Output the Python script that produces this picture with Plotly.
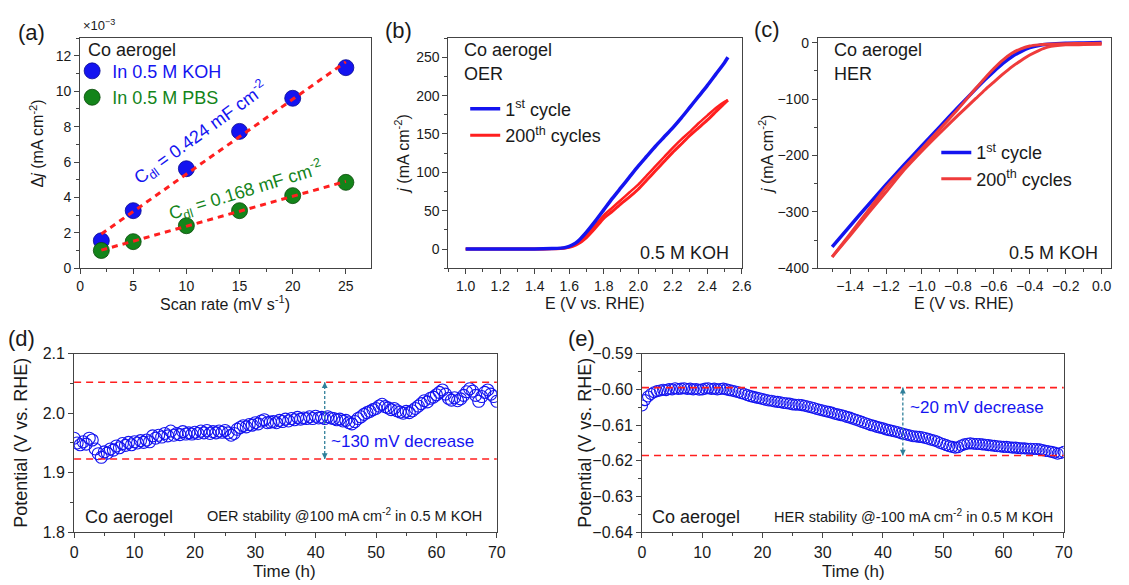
import numpy as np
import plotly.graph_objects as go

# ---------------- data ----------------
# (a) double-layer capacitance
scan_rate = [2, 5, 10, 15, 20, 25]
dj_koh = [1.55, 3.25, 5.62, 7.73, 9.60, 11.33]
dj_pbs = [1.00, 1.50, 2.40, 3.25, 4.10, 4.85]

# (b) OER polarisation
oer_E = [1.0, 1.1, 1.2, 1.3, 1.4, 1.5, 1.55, 1.58, 1.6, 1.62, 1.65, 1.7, 1.75, 1.8, 1.85,
         1.9, 1.95, 2.0, 2.05, 2.1, 2.15, 2.2, 2.25, 2.3, 2.35, 2.4, 2.45, 2.5, 2.52]
oer_j_1st = [0, 0, 0, 0, 0.2, 0.6, 1.2, 2.2, 3.5, 5.5, 10, 22, 36, 51, 66,
             80, 94, 108, 121, 134, 146, 158, 171, 185, 199, 213, 228, 243, 250]
oer_j_200_fwd = [0, 0, 0, 0, 0, 0.3, 0.8, 1.4, 2.2, 3.5, 6.5, 15, 27, 40, 49,
                 59, 68, 78, 90, 102, 114, 126, 137, 148, 158, 168, 179, 190, 194]
oer_j_200_rev = [0, 0, 0, 0, 0, 0.4, 1.0, 1.8, 2.8, 4.5, 8.5, 18, 31, 44, 54,
                 64, 74, 84, 96, 108, 120, 132, 143, 153, 164, 174, 184, 192, 194]

# (c) HER polarisation
her_E = [0.0, -0.1, -0.2, -0.3, -0.35, -0.4, -0.45, -0.5, -0.55, -0.6, -0.65, -0.7,
         -0.8, -0.9, -1.0, -1.1, -1.2, -1.3, -1.4, -1.5]
her_j_1st = [0, -0.5, -1, -3, -5, -9, -16, -25, -37, -51, -66, -82,
             -115, -149, -183, -217, -252, -288, -325, -362]
her_j_200_a = [-1, -1.5, -2, -3, -4, -6, -11, -19, -31, -46, -63, -81,
               -118, -153, -188, -222, -257, -298, -339, -380]
her_j_200_b = [-3, -3.5, -4, -8, -14, -22, -32, -43, -56, -70, -84, -99,
               -129, -160, -192, -226, -265, -303, -342, -380]

# (d) OER chronopotentiometry, one reading every 0.5 h
oer_stab = [
    1.958, 1.950, 1.947, 1.952, 1.948, 1.958, 1.955, 1.940, 1.932, 1.926,
    1.935, 1.933, 1.940, 1.938, 1.945, 1.942, 1.949, 1.946, 1.951, 1.947,
    1.952, 1.950, 1.954, 1.951, 1.955, 1.952, 1.962, 1.958, 1.963, 1.960,
    1.966, 1.962, 1.970, 1.963, 1.966, 1.964, 1.969, 1.965, 1.967, 1.965,
    1.968, 1.966, 1.970, 1.967, 1.971, 1.966, 1.969, 1.967, 1.970, 1.968,
    1.971, 1.967, 1.963, 1.966, 1.973, 1.976, 1.979, 1.977, 1.981, 1.980,
    1.984, 1.982, 1.987, 1.989, 1.984, 1.985, 1.986, 1.984, 1.988, 1.986,
    1.990, 1.987, 1.991, 1.989, 1.993, 1.990, 1.992, 1.991, 1.994, 1.991,
    1.995, 1.992, 1.993, 1.991, 1.994, 1.992, 1.991, 1.989, 1.990, 1.987,
    1.988, 1.984, 1.982, 1.986, 1.991, 1.994, 1.998, 2.001, 2.003, 2.006,
    2.008, 2.012, 2.015, 2.011, 2.009, 2.006, 2.008, 2.004, 2.002, 2.000,
    2.003, 2.001, 2.004, 2.008, 2.012, 2.016, 2.021, 2.019, 2.025, 2.027,
    2.031, 2.035, 2.039, 2.032, 2.025, 2.022, 2.026, 2.021, 2.024, 2.030,
    2.036, 2.041, 2.037, 2.030, 2.020, 2.028, 2.035, 2.039, 2.032, 2.028,
    2.020,
]
oer_limits = [2.052, 1.923]

# (e) HER chronopotentiometry, one reading every 0.5 h
her_stab = [
    -0.6045, -0.6030, -0.6020, -0.6013, -0.6008, -0.6005, -0.6003, -0.6001, -0.6002, -0.5999,
    -0.6000, -0.5997, -0.5999, -0.5998, -0.5997, -0.5999, -0.5998, -0.6000, -0.5999, -0.6001,
    -0.6000, -0.5998, -0.5997, -0.5999, -0.5998, -0.6000, -0.5999, -0.5998, -0.6000, -0.6002,
    -0.6004, -0.6006, -0.6008, -0.6011, -0.6013, -0.6016, -0.6019, -0.6021, -0.6023, -0.6025,
    -0.6027, -0.6029, -0.6031, -0.6032, -0.6034, -0.6035, -0.6036, -0.6038, -0.6039, -0.6040,
    -0.6042, -0.6043, -0.6043, -0.6044, -0.6046, -0.6048, -0.6050, -0.6052, -0.6055, -0.6057,
    -0.6059, -0.6061, -0.6063, -0.6065, -0.6068, -0.6070, -0.6072, -0.6074, -0.6077, -0.6079,
    -0.6082, -0.6085, -0.6088, -0.6091, -0.6094, -0.6097, -0.6100, -0.6102, -0.6105, -0.6107,
    -0.6109, -0.6112, -0.6114, -0.6116, -0.6118, -0.6120, -0.6123, -0.6125, -0.6127, -0.6129,
    -0.6131, -0.6132, -0.6133, -0.6134, -0.6136, -0.6138, -0.6141, -0.6143, -0.6146, -0.6150,
    -0.6153, -0.6156, -0.6159, -0.6161, -0.6163, -0.6162, -0.6157, -0.6154, -0.6152, -0.6151,
    -0.6152, -0.6153, -0.6153, -0.6154, -0.6155, -0.6156, -0.6157, -0.6158, -0.6159, -0.6160,
    -0.6161, -0.6161, -0.6162, -0.6163, -0.6163, -0.6164, -0.6165, -0.6165, -0.6166, -0.6166,
    -0.6167, -0.6167, -0.6168, -0.6170, -0.6172, -0.6173, -0.6175, -0.6177, -0.6180, -0.6178,
    -0.6175,
]
her_limits = [-0.5995, -0.6185]

step_h = 0.5
t_oer = np.arange(len(oer_stab)) * step_h
t_her = np.arange(len(her_stab)) * step_h

# ---------------- style ----------------
FONT = "Liberation Sans"
INK = "#1a1a1a"
AX = "#444444"
BLUE = "#1414f0"
GREEN = "#13841a"
RED = "#ff1f1f"
RED_C = "#ef3b3b"
TEAL = "#2f7f9a"

W, H = 1129, 585


def px(x):
    return x / W


def py(y):
    return 1 - y / H


def axis(domain, rng, dtick, minor, size=14, **kw):
    d = dict(domain=domain, range=rng, dtick=dtick, tick0=0,
             showline=True, linecolor=AX, linewidth=1, mirror=True,
             ticks="outside", ticklen=5, tickwidth=1, tickcolor=AX,
             showgrid=False, zeroline=False,
             tickfont=dict(family=FONT, size=size, color=INK),
             minor=dict(ticks="outside", ticklen=3, tickcolor=AX, dtick=minor, tick0=0))
    d.update(kw)
    return d


SMOOTH = dict(shape="spline", smoothing=0.6)

fig = go.Figure()

# (a) capacitance plot
fig.add_trace(go.Scatter(
    x=scan_rate, y=dj_koh, mode="markers", xaxis="x", yaxis="y",
    name="<span style='color:#1414f0'>In 0.5 M KOH</span>", legend="legend",
    marker=dict(size=16, color=BLUE, line=dict(color="#0a0a90", width=0.8))))
fig.add_trace(go.Scatter(
    x=scan_rate, y=dj_pbs, mode="markers", xaxis="x", yaxis="y",
    name="<span style='color:#13841a'>In 0.5 M PBS</span>", legend="legend",
    marker=dict(size=16, color=GREEN, line=dict(color="#0a4a0a", width=0.8))))
for ys in (dj_koh, dj_pbs):
    k, b = np.polyfit(scan_rate, ys, 1)
    xs = np.array([scan_rate[0], scan_rate[-1]])
    fig.add_trace(go.Scatter(
        x=xs, y=k * xs + b, mode="lines", xaxis="x", yaxis="y", showlegend=False,
        line=dict(color=RED, width=3, dash="6px,5px")))

# (b) OER curves
fig.add_trace(go.Scatter(
    x=oer_E[::-1], y=oer_j_200_rev[::-1], mode="lines", xaxis="x2", yaxis="y2",
    showlegend=False, line=dict(color=RED, width=2.5, **SMOOTH)))
fig.add_trace(go.Scatter(
    x=oer_E, y=oer_j_200_fwd, mode="lines", xaxis="x2", yaxis="y2",
    name="200<sup>th</sup> cycles", legend="legend2", line=dict(color=RED, width=3, **SMOOTH)))
fig.add_trace(go.Scatter(
    x=oer_E, y=oer_j_1st, mode="lines", xaxis="x2", yaxis="y2",
    name="1<sup>st</sup> cycle", legend="legend2", line=dict(color=BLUE, width=3.5, **SMOOTH)))

# (c) HER curves
fig.add_trace(go.Scatter(
    x=her_E, y=her_j_1st, mode="lines", xaxis="x3", yaxis="y3",
    name="1<sup>st</sup> cycle", legend="legend3", line=dict(color=BLUE, width=3.5, **SMOOTH)))
fig.add_trace(go.Scatter(
    x=her_E, y=her_j_200_b, mode="lines", xaxis="x3", yaxis="y3",
    name="200<sup>th</sup> cycles", legend="legend3", line=dict(color=RED_C, width=3, **SMOOTH)))
fig.add_trace(go.Scatter(
    x=her_E, y=her_j_200_a, mode="lines", xaxis="x3", yaxis="y3",
    showlegend=False, line=dict(color=RED_C, width=3, **SMOOTH)))

# (d) and (e) stability
fig.add_trace(go.Scatter(
    x=t_oer, y=oer_stab, mode="markers", xaxis="x4", yaxis="y4", showlegend=False,
    marker=dict(symbol="circle-open", size=12, color=BLUE, line=dict(width=1.1))))
fig.add_trace(go.Scatter(
    x=t_her, y=her_stab, mode="markers", xaxis="x5", yaxis="y5", showlegend=False,
    marker=dict(symbol="circle-open", size=11, color=BLUE, line=dict(width=1.1))))

shapes = []
for lvl in oer_limits:
    shapes.append(dict(type="line", xref="x4 domain", yref="y4", x0=0, x1=1, y0=lvl, y1=lvl,
                       line=dict(color=RED, width=1.6, dash="7px,5px")))
for lvl in her_limits:
    shapes.append(dict(type="line", xref="x5 domain", yref="y5", x0=0, x1=1, y0=lvl, y1=lvl,
                       line=dict(color=RED, width=1.6, dash="7px,5px")))
# double-headed dotted span markers
spans = [("x4", "y4", 41.5, oer_limits), ("x5", "y5", 43.3, her_limits)]
for xr, yr, xv, (hi, lo) in spans:
    shapes.append(dict(type="line", xref=xr, yref=yr, x0=xv, x1=xv, y0=lo, y1=hi,
                       line=dict(color=TEAL, width=1.3, dash="3px,2px")))

annotations = []


def note(text, x, y, xref="paper", yref="paper", size=16, color=INK, xanchor="left",
         yanchor="middle", angle=0, family=FONT):
    annotations.append(dict(text=text, x=x, y=y, xref=xref, yref=yref, showarrow=False,
                            xanchor=xanchor, yanchor=yanchor, textangle=angle,
                            font=dict(family=family, size=size, color=color)))


for xr, yr, xv, (hi, lo) in spans:
    for tip, off in ((hi, 7), (lo, -7)):
        annotations.append(dict(x=xv, y=tip, xref=xr, yref=yr, ax=0, ay=off, text="",
                                showarrow=True, arrowhead=2, arrowsize=0.9, arrowwidth=1.3,
                                arrowcolor=TEAL))

# panel letters
for lab, x, y in (("(a)", 28, 25), ("(b)", 399, 23), ("(c)", 773, 22), ("(d)", 18, 340), ("(e)", 585, 340)):
    note(lab, px(x), py(y), size=22, xanchor="center")

# axis titles
note("Scan rate (mV s<sup>-1</sup>)", px(224), py(304), size=16, xanchor="center")
note("E (V vs. RHE)", px(598), py(304), size=16, xanchor="center")
note("E (V vs. RHE)", px(972), py(304), size=16, xanchor="center")
note("Δ<i>j</i> (mA cm<sup>-2</sup>)", px(33), py(140), size=16, xanchor="center", angle=-90)
note("<i>j</i> (mA cm<sup>-2</sup>)", px(403), py(150), size=16, xanchor="center", angle=-90)
note("<i>j</i> (mA cm<sup>-2</sup>)", px(771), py(150), size=16, xanchor="center", angle=-90)
note("×10<sup>−3</sup>", px(78), py(17), size=13, xanchor="left")
note("Time (h)", px(284), py(580), size=17, xanchor="center")
note("Time (h)", px(860), py(580), size=17, xanchor="center")
note("Potential (V vs. RHE)", px(17), py(448), size=18, xanchor="center", angle=-90)
note("Potential (V vs. RHE)", px(588), py(448), size=18, xanchor="center", angle=-90)

# in-panel labels
note("Co aerogel", px(83), py(43), size=18)
note("C<sub>dl</sub> = 0.424 mF cm<sup>-2</sup>", 11.4, 7.65, "x", "y", size=18, color=BLUE,
     xanchor="center", angle=-36)
note("C<sub>dl</sub> = 0.168 mF cm<sup>-2</sup>", 15.6, 4.37, "x", "y", size=18, color=GREEN,
     xanchor="center", angle=-17)
note("Co aerogel", px(464), py(43), size=18)
note("OER", px(464), py(68), size=18)
note("0.5 M KOH", px(736), py(252), size=18, xanchor="right")
note("Co aerogel", px(838), py(43), size=18)
note("HER", px(838), py(68), size=18)
note("0.5 M KOH", px(1110), py(252), size=18, xanchor="right")
note("~130 mV decrease", 42.2, 1.952, "x4", "y4", size=17, color=BLUE)
note("~20 mV decrease", 44.2, -0.6052, "x5", "y5", size=17, color=BLUE)
note("Co aerogel", 1.4, 1.826, "x4", "y4", size=18)
note("OER stability @100 mA cm<sup>-2</sup> in 0.5 M KOH", 67.8, 1.829, "x4", "y4", size=14.5,
     xanchor="right")
note("Co aerogel", 1.4, -0.6358, "x5", "y5", size=18)
note("HER stability @-100 mA cm<sup>-2</sup> in 0.5 M KOH", 68.5, -0.6354, "x5", "y5", size=14.5,
     xanchor="right")

leg_common = dict(bgcolor="rgba(0,0,0,0)", borderwidth=0, xanchor="left", yanchor="top",
                  tracegroupgap=0, itemclick=False)

fig.update_layout(
    width=W, height=H, autosize=False,
    margin=dict(l=0, r=0, t=0, b=0),
    paper_bgcolor="white", plot_bgcolor="white",
    font=dict(family=FONT, color=INK),
    xaxis=axis([px(77), px(372)], [0, 27.4], 5, 2.5, anchor="y"),
    yaxis=axis([py(268), py(31)], [0, 13], 2, 1, anchor="x"),
    xaxis2=axis([px(450), px(747)], [0.9, 2.6], 0.2, 0.1, anchor="y2", tickformat=".1f"),
    yaxis2=axis([py(268), py(31)], [-25, 275], 50, 25, anchor="x2"),
    xaxis3=axis([px(824), px(1120.5)], [-1.58, 0.05], 0.2, 0.1, anchor="y3", tickformat=".1f"),
    yaxis3=axis([py(268), py(31)], [-400, 8], 100, 50, anchor="x3"),
    xaxis4=axis([px(71), px(499)], [0, 70], 10, 5, size=16, anchor="y4"),
    yaxis4=axis([py(540), py(356)], [1.8, 2.1], 0.1, 0.05, size=16, anchor="x4", tickformat=".1f"),
    xaxis5=axis([px(646), px(1073)], [0, 70], 10, 5, size=16, anchor="y5"),
    yaxis5=axis([py(540), py(356)], [-0.64, -0.59], 0.01, 0.005, size=16, anchor="x5",
                tickformat=".2f"),
    legend=dict(x=px(69), y=py(46), font=dict(family=FONT, size=18),
                itemsizing="trace", **leg_common),
    legend2=dict(x=px(467), y=py(85), font=dict(family=FONT, size=18, color=INK),
                 traceorder="reversed", **leg_common),
    legend3=dict(x=px(944), y=py(130), font=dict(family=FONT, size=18, color=INK),
                 **leg_common),
    shapes=shapes,
    annotations=annotations,
)

fig.write_html("out.html")
